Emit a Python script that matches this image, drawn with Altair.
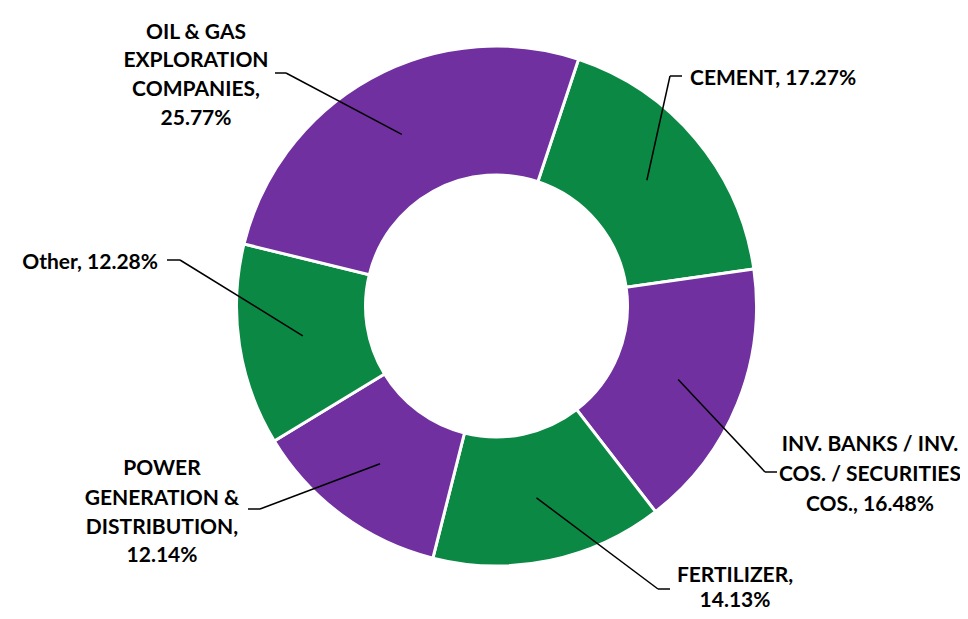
import math
import altair as alt
import pandas as pd

# ---------------- data ----------------
categories = [
    "CEMENT",
    "INV. BANKS / INV. COS. / SECURITIES COS.",
    "FERTILIZER",
    "POWER GENERATION & DISTRIBUTION",
    "Other",
    "OIL & GAS EXPLORATION COMPANIES",
]
values = [17.27, 16.48, 14.13, 12.14, 12.28, 25.77]
label_lines = [
    ["CEMENT, 17.27%"],
    ["INV. BANKS / INV.", "COS. / SECURITIES", "COS., 16.48%"],
    ["FERTILIZER,", "14.13%"],
    ["POWER", "GENERATION &", "DISTRIBUTION,", "12.14%"],
    ["Other, 12.28%"],
    ["OIL & GAS", "EXPLORATION", "COMPANIES,", "25.77%"],
]

# ---------------- style / layout ----------------
GREEN = "#0B8843"
PURPLE = "#7030A0"
slice_colors = [GREEN, PURPLE, GREEN, PURPLE, GREEN, PURPLE]

W, H = 952, 603
M = 8                      # page margin
CX, CY = 496.5 - M, 306 - M
R_OUT, R_IN = 260, 131
R_LEAD = 196
START_DEG = 18.4
FONT = "Lato"
FONT_SIZE = 21

# label anchor layout (page pixels): align, x, line centers, elbow, end of leader
layout = [
    dict(align="left", x=690, ys=[78], elbow=(670, 76), end=(682, 76)),
    dict(align="center", x=870, ys=[444, 474, 504], elbow=(765, 472), end=(777, 472)),
    dict(align="center", x=735, ys=[575, 600], elbow=(658, 589), end=(670, 589)),
    dict(align="center", x=162, ys=[468, 498, 527, 555], elbow=(260, 509), end=(248, 509)),
    dict(align="right", x=158, ys=[262], elbow=(180, 260), end=(167, 260)),
    dict(align="center", x=196, ys=[32, 60, 89, 118], elbow=(286, 73), end=(275, 73)),
]

# ---------------- tables ----------------
slices = pd.DataFrame({
    "category": categories,
    "value": values,
    "idx": list(range(len(categories))),
})

total = sum(values)
start_rad = math.radians(START_DEG)

seg_rows, text_rows = [], []
cum = 0.0
for cat, v, lines, lay in zip(categories, values, label_lines, layout):
    mid = start_rad + (cum + v / 2) / total * 2 * math.pi
    cum += v
    px = CX + R_LEAD * math.sin(mid)
    py = CY - R_LEAD * math.cos(mid)
    ex, ey = lay["elbow"][0] - M, lay["elbow"][1] - M
    tx, ty = lay["end"][0] - M, lay["end"][1] - M
    seg_rows.append(dict(x=px, y=py, x2=ex, y2=ey))
    seg_rows.append(dict(x=ex, y=ey, x2=tx, y2=ty))
    for line, yy in zip(lines, lay["ys"]):
        text_rows.append(dict(text=line, x=lay["x"] - M, y=yy - M, align=lay["align"]))

segs = pd.DataFrame(seg_rows)
texts = pd.DataFrame(text_rows)

# ---------------- chart ----------------
arcs = alt.Chart(slices).mark_arc(
    outerRadius=R_OUT, innerRadius=R_IN, stroke="white", strokeWidth=3
).encode(
    theta=alt.Theta("value:Q", stack=True,
                    scale=alt.Scale(range=[start_rad, start_rad + 2 * math.pi])),
    order=alt.Order("idx:Q"),
    color=alt.Color("category:N",
                    scale=alt.Scale(domain=categories, range=slice_colors),
                    legend=None),
    x=alt.value(CX),
    y=alt.value(CY),
)

leaders = alt.Chart(segs).mark_rule(color="black", strokeWidth=1.5).encode(
    x=alt.X("x:Q", scale=None, axis=None),
    y=alt.Y("y:Q", scale=None, axis=None),
    x2="x2:Q",
    y2="y2:Q",
)

text_layers = []
for al in ["left", "center", "right"]:
    text_layers.append(
        alt.Chart(texts).transform_filter(alt.datum.align == al).mark_text(
            align=al, baseline="middle", font=FONT, fontWeight="bold",
            fontSize=FONT_SIZE, color="black", dy=1
        ).encode(
            x=alt.X("x:Q", scale=None, axis=None),
            y=alt.Y("y:Q", scale=None, axis=None),
            text="text:N",
        )
    )

chart = alt.layer(arcs, leaders, *text_layers).properties(
    width=W, height=H, padding=0, autosize="none", background="white"
).configure_view(stroke=None)

chart.save("out.html", embed_options={"renderer": "svg", "actions": False})
